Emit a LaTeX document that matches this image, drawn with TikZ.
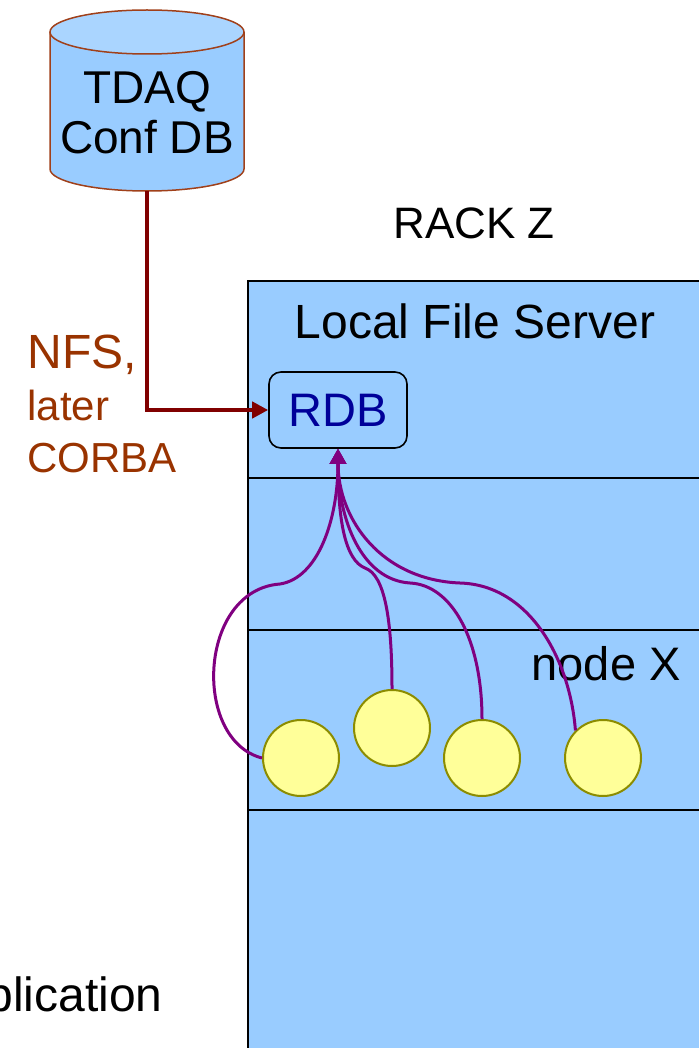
\documentclass[tikz,border=0pt]{standalone}
\usepackage{fontspec}
\setmainfont{Liberation Sans}
\usepackage{tikz}
\usetikzlibrary{arrows.meta}
\usetikzlibrary{shapes.geometric}

\definecolor{rackblue}{HTML}{99CCFF}
\definecolor{captop}{HTML}{AAD5FF}
\definecolor{dbedge}{HTML}{A0401A}
\definecolor{nfsred}{HTML}{800000}
\definecolor{nfstext}{HTML}{993300}
\definecolor{rdbtext}{HTML}{000099}
\definecolor{callpurple}{HTML}{800080}
\definecolor{procyellow}{HTML}{FFFF99}
\definecolor{procedge}{HTML}{8C8C00}

\begin{document}
\begin{tikzpicture}[x=0.5pt,y=-0.5pt,
		bigtext/.style={font=\fontsize{24}{26}\selectfont,inner sep=0pt},
		notetext/.style={font=\fontsize{21}{23}\selectfont,inner sep=0pt,text=nfstext},
		rdbbox/.style={draw=black,line width=0.8pt,rounded corners=6pt,fill=rackblue,
			minimum width=69pt,minimum height=38pt,inner sep=0pt,
			font=\fontsize{23.5}{25}\selectfont,text=rdbtext},
		proc/.style={circle,draw=procedge,line width=1pt,fill=procyellow,minimum size=38pt,inner sep=0pt},
		nfsline/.style={draw=nfsred,line width=2pt,-{Triangle[width=8pt,length=8pt]}},
		callline/.style={draw=callpurple,line width=1.5pt,-{Triangle[width=8pt,length=7.5pt]}}]
	\useasboundingbox (0,0) rectangle (698,1048);

	% the database cylinder
	\path[fill=rackblue,draw=dbedge,line width=0.75pt] (50,32) -- (50,169)
		arc[start angle=180,end angle=0,x radius=97,y radius=22] -- (244,32);
	\draw[fill=captop,draw=dbedge,line width=0.75pt] (147,32) ellipse [x radius=97,y radius=22];
	\node[bigtext,align=center,font=\fontsize{23}{25}\selectfont] (confdb) at (147,113) {TDAQ\\Conf DB};
	\coordinate (dbout) at (147,191);

	% the rack and its slots
	\fill[rackblue] (248,281) rectangle (710,1060);
	\draw[line width=1pt] (710,281) -- (248,281) -- (248,1060);
	\foreach \y in {478,630,810}
		\draw[line width=1pt] (248,\y) -- (710,\y);
	\node[bigtext,font=\fontsize{22}{24}\selectfont,anchor=base] (rack) at (474,238) {RACK Z};
	\node[bigtext,anchor=base] (lfs) at (475,338) {Local File Server};
	\node[bigtext,font=\fontsize{23.5}{25}\selectfont,anchor=base east] (nodex) at (681,680) {node X};
	\node[bigtext,anchor=base east] (app) at (163,1011) {plication};

	% transport labels
	\node[bigtext,text=nfstext,anchor=base west] (nfs) at (27,368) {NFS,};
	\node[notetext,anchor=base west] (later) at (27,420) {later};
	\node[notetext,anchor=base west] (corba) at (27,472) {CORBA};

	\node[rdbbox] (rdb) at (338,410) {RDB};
	\draw[nfsline] (dbout) |- (rdb.west);

	% processes on node X
	\node[proc] (p1) at (301,758) {};
	\node[proc] (p2) at (392,728) {};
	\node[proc] (p3) at (482,758) {};
	\node[proc] (p4) at (603,758) {};

	\draw[callline] (p1.west) .. controls (192,740) and (198,590) .. (280,584)
		.. controls (318,578) and (338,520) .. (rdb.south);
	\draw[callline] (p2.north) .. controls (392,620) and (385,575) .. (365,568)
		.. controls (345,560) and (338,520) .. (rdb.south);
	\draw[callline] (p3.north) .. controls (482,640) and (452,585) .. (410,583)
		.. controls (362,580) and (338,520) .. (rdb.south);
	\draw[callline] (p4.north west) .. controls (570,660) and (530,585) .. (460,583)
		.. controls (382,580) and (338,520) .. (rdb.south);
\end{tikzpicture}
\end{document}
